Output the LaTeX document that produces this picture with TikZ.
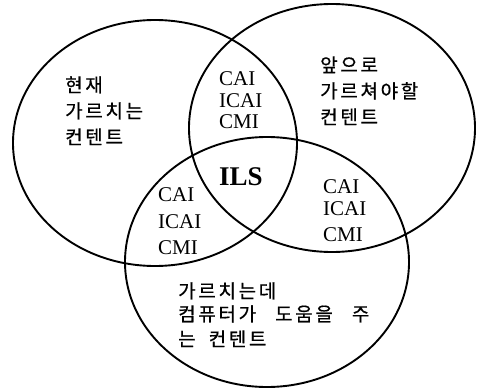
\documentclass[tikz,border=0pt]{standalone}
\usepackage{fontspec}
\setmainfont{Liberation Serif}
\newfontfamily\kr[LetterSpace=14,FakeBold=0.6]{Noto Sans CJK KR}
\begin{document}
\begin{tikzpicture}[x=1pt,y=-1pt,
  ring/.style={draw=black,line width=1.9pt},
  kor/.style={anchor=base west,inner sep=0pt,font=\kr\fontsize{19}{22}\selectfont},
  lat/.style={anchor=base west,inner sep=0pt,font=\fontsize{21}{24}\selectfont},
  core/.style={anchor=base west,inner sep=0pt,font=\bfseries\fontsize{27}{30}\selectfont}]
\fill[white] (0,0) rectangle (478,388);
\useasboundingbox (0,0) rectangle (478,388);
\draw[ring] (155,143) ellipse [x radius=142, y radius=123];
\draw[ring] (332,128) ellipse [x radius=143, y radius=124];
\draw[ring] (267,262) ellipse [x radius=142, y radius=125];
% left block
\node[kor] (l1) at (65,92) {현재};
\node[kor] (l2) at (65,118) {가르치는};
\node[kor] (l3) at (65,144) {컨텐트};
% right block
\node[kor] (r1) at (320,72) {앞으로};
\node[kor] (r2) at (320,98) {가르쳐야할};
\node[kor] (r3) at (320,124) {컨텐트};
% bottom block
\node[kor] (b1) at (178,298) {가르치는데};
\node[kor] (b2) at (178,321) {컴퓨터가\hspace{19pt}도움을\hspace{19pt}주};
\node[kor] (b3) at (178,346) {는\hspace{13pt}컨텐트};
% top overlap
\node[lat] (t1) at (219,85) {CAI};
\node[lat] (t2) at (219,107) {ICAI};
\node[lat] (t3) at (219,128) {CMI};
% left-lower overlap
\node[lat] (m1) at (158,201) {CAI};
\node[lat] (m2) at (158,228) {ICAI};
\node[lat] (m3) at (158,254) {CMI};
% right overlap
\node[lat] (n1) at (323,193) {CAI};
\node[lat] (n2) at (323,215) {ICAI};
\node[lat] (n3) at (323,241) {CMI};
% centre
\node[core] (ils) at (219,185) {ILS};
\end{tikzpicture}
\end{document}
